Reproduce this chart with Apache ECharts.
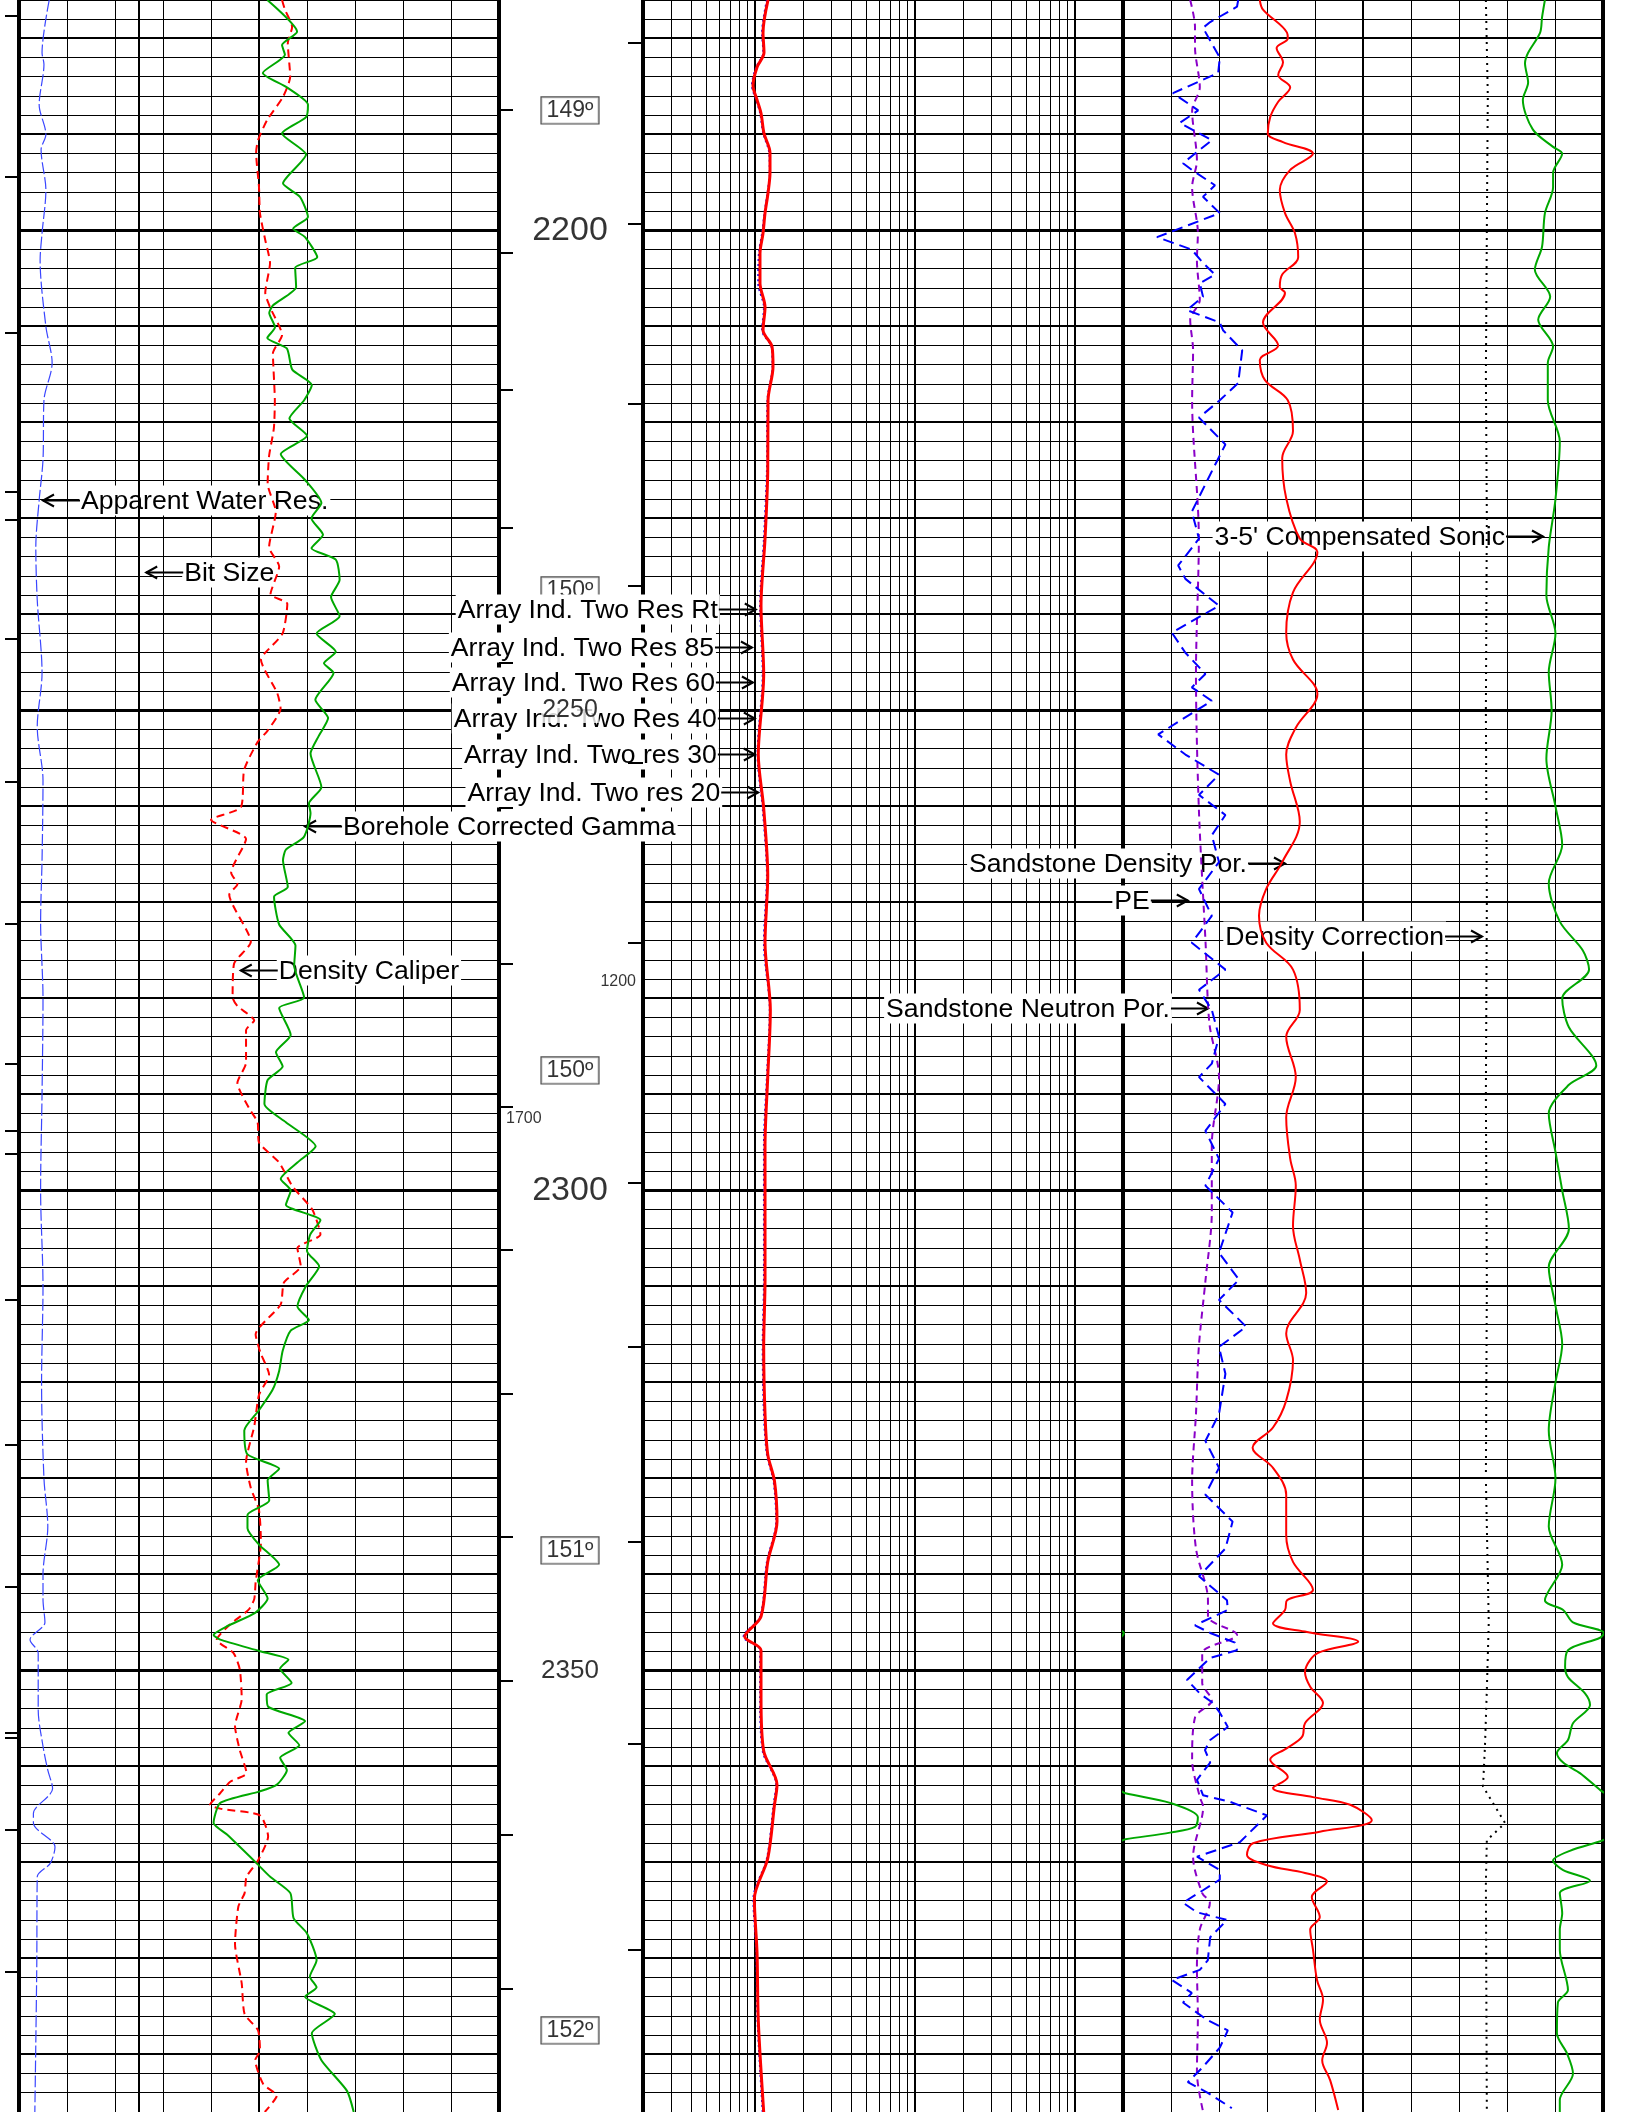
<!DOCTYPE html>
<html>
<head>
<meta charset="utf-8">
<script src="https://cdn.jsdelivr.net/npm/echarts/dist/echarts.min.js"></script>
<style>
  html, body { margin: 0; padding: 0; background: #fff; }
  #log { width: 1627px; height: 2112px; }
</style>
</head>
<body>
<div id="log"></div>
<script>
// ---- depth window (ft) ----
const DEPTH_TOP = 2176;
const DEPTH_BASE = 2396;

// ---- Track 1 curves, [depth, value] ----
// Borehole corrected gamma, API (0 - 150)
const gammaRay = [[2176,77.6],[2179.3,86.9],[2180.7,82.2],[2181.7,83.1],[2183.6,76.2],[2185.1,83.7],[2186.9,90.3],[2188.2,89.7],[2189.9,82.2],[2192.1,89.7],[2195.1,82.5],[2196.5,87.8],[2198.6,90.3],[2199.8,85.7],[2200.7,89.4],[2202.8,93.2],[2203.9,86.3],[2205.9,86.6],[2207.8,79.4],[2208.6,78.2],[2210.1,80],[2211.2,77.6],[2212.3,83.7],[2214.5,85.4],[2216.1,91.5],[2217.7,89.1],[2219.6,84.5],[2221.4,90],[2223.3,81.8],[2226,89.4],[2228.4,94.5],[2230,91.4],[2231.7,95],[2233.1,91.4],[2234.3,99],[2236.4,100.2],[2238.2,97.5],[2240.2,100.2],[2242,93],[2243.9,99],[2245.1,95.3],[2246.1,98.3],[2248.9,92.6],[2250.8,96.6],[2252.7,93.6],[2254.5,91.1],[2258,94.5],[2259.7,90.6],[2260.7,91.1],[2263.2,89],[2264.5,83.4],[2265.6,82.5],[2268.4,84],[2269.4,79.7],[2272.3,81.3],[2274.5,86.4],[2276.6,86],[2279.9,89.1],[2281,81.3],[2283.8,84.9],[2285.6,80.3],[2287.1,82.4],[2288.5,77.7],[2291,76.7],[2292.9,83.4],[2295.4,92.7],[2297.1,87],[2298.8,81.8],[2300,84.9],[2301.5,83.4],[2303.1,94.2],[2304.6,91],[2306.3,90],[2307.9,93.8],[2310,89.6],[2312.1,87],[2313.5,90.6],[2314.6,84.9],[2316.7,82.4],[2318.8,81.3],[2320.8,79.2],[2322.9,75],[2325,70.4],[2327.5,71.4],[2329,81.3],[2330.2,77.7],[2332.3,78.2],[2333.8,71.4],[2335.2,71.4],[2336.9,75],[2339,81.3],[2340.6,74.6],[2342.5,77.7],[2344,73.8],[2345.4,65],[2346.3,60.8],[2346.8,62.9],[2348,75.3],[2348.9,84.2],[2349.8,81.6],[2351.3,85.2],[2352.5,77.4],[2353.8,77.9],[2355.3,89.4],[2356.5,84.2],[2357.8,87.6],[2359.1,81.6],[2360.4,83.7],[2361.9,80.6],[2362.6,75.3],[2363.8,62.9],[2365.9,60.8],[2367.1,65],[2370.1,74.3],[2371.5,78.5],[2373.2,84.8],[2375.8,85.8],[2377.4,90],[2380.2,93],[2381.9,90.9],[2383,93],[2384,89.4],[2385.8,98.7],[2387.8,91.5],[2390.6,94.5],[2393.8,102.5],[2396,104.6]];

// Density caliper, in (6 - 16)
const densityCaliper = [[2176,11.48],[2177,11.54],[2178.8,11.69],[2180.5,11.6],[2184,11.65],[2186.1,11.5],[2188.5,11.17],[2190.6,10.98],[2191.9,10.94],[2195.5,11],[2198.2,11.02],[2201,11.13],[2203.4,11.23],[2206.5,11.13],[2208,11.23],[2210.9,11.48],[2212.8,11.29],[2217.7,11.33],[2220.6,11.31],[2223.5,11.21],[2226.4,11.18],[2229.3,11.35],[2233,11.21],[2235,11.42],[2237.9,11.24],[2238.9,11.59],[2242,11.49],[2244.1,11.11],[2244.7,11.04],[2248.2,11.38],[2249.8,11.45],[2252.1,11.18],[2253.3,10.97],[2256.2,10.69],[2260.1,10.62],[2261.4,10.0],[2263.4,10.73],[2266.9,10.42],[2268.1,10.55],[2269.2,10.38],[2274.1,10.83],[2276.4,10.48],[2279.9,10.45],[2280.8,10.55],[2282.3,10.9],[2283.3,10.73],[2286.7,10.73],[2288.8,10.55],[2291.5,10.8],[2292.9,10.97],[2295,11],[2297.1,11.42],[2299.6,11.7],[2302,12.11],[2304.6,12.28],[2306,11.8],[2307.9,11.87],[2309.6,11.52],[2311.9,11.45],[2315,10.93],[2316.9,11.03],[2319.2,11.21],[2321.3,11],[2324.6,10.9],[2328.3,10.73],[2331,10.83],[2333.3,11],[2336.7,11.04],[2340.8,10.93],[2342.6,10.9],[2343.7,10.78],[2345.2,10.4],[2346.8,10.12],[2348.2,10.47],[2349.9,10.6],[2353,10.64],[2355.8,10.5],[2358.3,10.6],[2360.7,10.74],[2361.6,10.4],[2362.8,10.19],[2364,9.98],[2364.4,10.19],[2365.1,11.02],[2367.3,11.19],[2369.8,10.98],[2371.5,10.74],[2373.2,10.7],[2374.6,10.57],[2378.5,10.5],[2382.6,10.64],[2385.8,10.7],[2387.5,10.98],[2389.6,11.02],[2390.6,10.92],[2393.1,11.09],[2394.3,11.37],[2396,11.12]];

// Bit size, in (same scale as caliper)
const bitSize = [[2176,8.5],[2396,8.5]];

// Apparent water resistivity, ohm-m (0 - 10)
const apparentRw = [[2176,0.63],[2181.5,0.48],[2182.7,0.52],[2186.9,0.42],[2190,0.56],[2191.6,0.46],[2195.8,0.56],[2200.3,0.48],[2203.1,0.44],[2210,0.56],[2213.8,0.69],[2217.7,0.52],[2223.9,0.5],[2228.1,0.42],[2233,0.35],[2238.5,0.38],[2246.1,0.48],[2251.7,0.38],[2257.3,0.5],[2265.6,0.48],[2272,0.45],[2280,0.5],[2290,0.48],[2300,0.45],[2310,0.5],[2320,0.47],[2330,0.52],[2335,0.6],[2340,0.5],[2342.6,0.5],[2345,0.54],[2346.8,0.23],[2348.2,0.4],[2354.1,0.4],[2357.9,0.5],[2360.4,0.6],[2362.3,0.7],[2364.9,0.3],[2365.9,0.3],[2368.4,0.75],[2370.1,0.65],[2371.5,0.38],[2380.9,0.37],[2396,0.33]];

// ---- Track 2: array induction resistivities, ohm-m (log 2 - 2000) ----
const resDepth = [2176,2179.4,2181.5,2183,2184.9,2186.4,2187.8,2189.9,2191.9,2194,2196.1,2198.2,2200.3,2202.4,2205.5,2208,2210.4,2212.1,2214.2,2217.7,2225.1,2232.1,2239.1,2246.2,2254.6,2260.2,2267.2,2274.2,2281.2,2288.2,2295.3,2302.3,2309.3,2316.3,2323.3,2327.5,2330.3,2334.5,2338.7,2344.4,2346.5,2347.9,2352.8,2358.4,2361.9,2364,2369.6,2373.8,2379.4,2386.5,2396];
const resRt = [12.09,11.25,11.41,10.32,9.74,10.32,10.93,11.41,12.44,12.44,12.09,11.58,11.25,10.77,10.77,11.58,11.25,12.8,12.99,12.09,12.04,11.58,10.93,11.36,10.51,11.36,12.04,11.58,12.5,12.04,11.58,11.58,11.58,11.36,11.58,12.04,13.27,13.76,12.04,10.93,8.65,10.93,10.93,11.36,13.76,13.27,12.04,9.93,10.32,10.51,11.36];
const res85 = [11.9,11.1,11.3,10.2,9.6,10.2,10.8,11.3,12.3,12.4,12.0,11.5,11.1,10.6,10.5,11.4,11.1,12.7,12.9,12.0,11.9,11.4,10.8,11.2,10.4,11.2,11.9,11.4,12.4,11.9,11.4,11.4,11.4,11.2,11.4,11.9,13.1,13.6,11.9,10.8,8.5,10.8,10.8,11.2,13.6,13.1,11.9,9.8,10.2,10.4,11.2];
const res60 = [12.0,11.2,11.35,10.3,9.7,10.3,10.9,11.35,12.4,12.4,12.05,11.55,11.2,10.7,10.7,11.5,11.2,12.75,12.95,12.05,12.0,11.5,10.9,11.3,10.5,11.3,12.0,11.5,12.45,12.0,11.5,11.5,11.5,11.3,11.5,12.0,13.2,13.7,12.0,10.9,8.6,10.9,10.9,11.3,13.7,13.2,12.0,9.9,10.3,10.5,11.3];
const res40 = res60.slice();
const res30 = res60.slice();
const res20 = [12.1,11.3,11.45,10.35,9.8,10.35,10.95,11.45,12.45,12.45,12.1,11.6,11.3,10.8,10.8,11.6,11.3,12.8,13.0,12.1,12.05,11.6,10.95,11.4,10.55,11.4,12.05,11.6,12.5,12.05,11.6,11.6,11.6,11.4,11.6,12.05,13.3,13.8,12.05,10.95,8.7,10.95,10.95,11.4,13.8,13.3,12.05,9.95,10.35,10.55,11.4];

// ---- Track 3 curves, [depth, value] ----
// Compensated sonic, us/ft (140 - 40, wraps past 40)
const sonic = [[2176,52.1],[2177.8,52.7],[2179.4,53.1],[2181.5,55.6],[2182.6,56.25],[2184.6,55.6],[2186.4,56.7],[2189.5,54.6],[2191.3,50.4],[2192,48.5],[2194,50.4],[2195.5,50.4],[2198.2,52.1],[2201.7,52.7],[2204.1,54.2],[2206.9,51],[2209.3,53.5],[2212.1,50.4],[2213.8,51.5],[2217.7,51.5],[2222,49],[2228,49.9],[2233,51.3],[2238,51.8],[2242,49.9],[2246,51.3],[2250,50.7],[2255,51.8],[2260,49.9],[2264,48.5],[2268,51.3],[2272,49],[2275,44.2],[2277,42.9],[2280,48.5],[2283,47.1],[2287,41.4],[2289,47.1],[2292,51.3],[2296,49.9],[2300,48.5],[2304,47.1],[2308,51.3],[2312,49.9],[2316,48.5],[2320,49.9],[2325,51.3],[2330,49.9],[2335,51.3],[2339,48.5],[2342.7,52.1],[2343.7,48.3],[2345,46.25],[2346.1,39.8],[2346.6,40.6],[2347.9,47.3],[2349.6,47.9],[2350.7,47.3],[2352.4,43.75],[2353.6,42.7],[2355.5,46.25],[2357.25,47.3],[2358.6,49.6],[2359.6,48.3],[2360.7,44.8],[2362.5,40.5],[2362.8,39.5],[2363.8,30.2],[2365.3,24.4],[2366.3,25],[2366.9,30.2],[2367.6,39.5],[2367.8,40.5],[2368.8,46.9],[2369.8,50.4],[2370.8,48.3],[2371.9,42.7],[2373.2,49],[2375.3,48.5],[2377,49],[2379.1,49],[2383.3,47.3],[2384.6,49.4],[2387.8,49.6],[2389.9,47.5],[2392,46.25],[2394.75,49],[2396,49]];

// Sandstone density porosity, v/v (0.45 - -0.15)
const densityPor = [[2176,0.279],[2177,0.275],[2179.4,0.245],[2180,0.244],[2181,0.258],[2182.5,0.25],[2183.8,0.256],[2185.1,0.241],[2186.6,0.256],[2188.2,0.266],[2189.9,0.269],[2190.8,0.25],[2192,0.2125],[2193.7,0.241],[2195.8,0.254],[2198.2,0.2475],[2200.3,0.235],[2202.8,0.231],[2204.6,0.251],[2205.9,0.254],[2206.5,0.2475],[2209.6,0.275],[2212,0.256],[2213.5,0.279],[2215.6,0.2725],[2217.7,0.244],[2220.9,0.2375],[2223.7,0.251],[2227.9,0.246],[2232.1,0.229],[2233.5,0.207],[2237.7,0.2375],[2241.9,0.246],[2244.7,0.2375],[2248.3,0.207],[2251.8,0.234],[2254.6,0.246],[2257.4,0.241],[2261.6,0.229],[2265.8,0.251],[2268.6,0.271],[2271.4,0.28],[2274.2,0.271],[2277,0.2375],[2281.2,0.229],[2284,0.246],[2288.2,0.234],[2292.4,0.246],[2296.7,0.241],[2299.5,0.234],[2303.7,0.2375],[2307.2,0.229],[2310.7,0.221],[2314.9,0.246],[2317.7,0.2375],[2321.9,0.246],[2324.7,0.2625],[2326.8,0.288],[2328.9,0.2625],[2331.7,0.246],[2335.9,0.246],[2338.7,0.2375],[2341.6,0.2125],[2342.7,0.245],[2343.7,0.2475],[2345.1,0.2625],[2346,0.22],[2347,0.156],[2348.1,0.204],[2348.9,0.216],[2350.2,0.2225],[2351.7,0.216],[2353.4,0.2],[2355.5,0.2225],[2356.9,0.226],[2358.1,0.245],[2359.3,0.266],[2361.1,0.244],[2362.25,0.2625],[2363.2,0.2125],[2364,0.166],[2365.6,0.139],[2366.8,0.204],[2368,0.2875],[2369.2,0.295],[2370.3,0.27],[2371.1,0.2225],[2372,0.195],[2373.6,0.214],[2375.7,0.204],[2377,0.216],[2379.1,0.2125],[2382.25,0.2075],[2384.3,0.2],[2386.4,0.204],[2388.8,0.195],[2390.6,0.201],[2392.7,0.191],[2395.8,0.181]];

// Sandstone neutron porosity, v/v (0.45 - -0.15)
const neutronPor = [[2176,0.306],[2176.7,0.3075],[2178.3,0.341],[2178.9,0.35],[2182,0.329],[2183.6,0.331],[2185.7,0.3875],[2187.5,0.356],[2188.8,0.379],[2190.6,0.339],[2193,0.375],[2193.7,0.364],[2195.3,0.335],[2196.5,0.35],[2198.2,0.329],[2200.7,0.4075],[2202,0.364],[2203.3,0.351],[2204.6,0.335],[2205.5,0.354],[2206.9,0.35],[2208.3,0.37],[2209.6,0.329],[2210.4,0.325],[2212.5,0.301],[2215.9,0.306],[2217.7,0.329],[2219.5,0.355],[2222.3,0.322],[2225.1,0.339],[2229.3,0.364],[2232.1,0.355],[2234.9,0.381],[2236.3,0.372],[2239.1,0.33],[2241.9,0.389],[2244,0.372],[2246.2,0.347],[2247.6,0.364],[2249,0.339],[2252.5,0.406],[2254.6,0.372],[2256.7,0.33],[2258.8,0.355],[2260.9,0.322],[2263,0.339],[2265.8,0.33],[2268.6,0.355],[2271.4,0.339],[2274.2,0.364],[2277,0.322],[2279.1,0.355],[2281.2,0.339],[2284,0.33],[2286.8,0.339],[2288.2,0.355],[2291,0.322],[2293.8,0.347],[2296.7,0.33],[2299.5,0.347],[2302.3,0.313],[2306.5,0.33],[2309.3,0.305],[2311.4,0.33],[2314.2,0.296],[2316.3,0.33],[2319.1,0.322],[2323.3,0.33],[2326.1,0.347],[2328.9,0.33],[2331.7,0.347],[2334.5,0.313],[2337.3,0.322],[2340.2,0.355],[2342.7,0.32],[2343.7,0.319],[2345.3,0.36],[2346.1,0.341],[2347.1,0.31],[2347.9,0.3075],[2348.7,0.341],[2351,0.37],[2352.4,0.354],[2353.4,0.3375],[2354.4,0.329],[2355.9,0.319],[2357.25,0.341],[2358.3,0.3475],[2359.6,0.341],[2361.4,0.3575],[2363,0.35],[2363.7,0.316],[2365.1,0.27],[2367.9,0.304],[2369.4,0.3575],[2370.8,0.329],[2371.8,0.329],[2372.9,0.35],[2374.2,0.375],[2375.2,0.3575],[2376,0.32],[2377.8,0.341],[2380.2,0.344],[2381.2,0.354],[2382.25,0.389],[2383.6,0.364],[2384.6,0.375],[2386.4,0.345],[2387.5,0.319],[2389.3,0.329],[2391.3,0.35],[2392.9,0.369],[2394,0.344],[2395.6,0.314]];

// Photoelectric factor, b/e (0 - 10)
const photoElectric = [[2176,1.4],[2178.8,1.5],[2180.9,1.5],[2185.1,1.6],[2187.5,1.44],[2192.7,1.54],[2195.5,1.44],[2200.3,1.56],[2203.1,1.54],[2207.25,1.6],[2209.3,1.4],[2212.5,1.46],[2217.7,1.44],[2232.1,1.58],[2246.2,1.52],[2260.2,1.58],[2274.2,1.72],[2282.6,1.8],[2288.2,2.0],[2295.3,1.85],[2302.3,1.85],[2309.3,1.72],[2316.3,1.58],[2323.3,1.52],[2330.3,1.44],[2337.3,1.52],[2342.7,1.77],[2344.4,1.77],[2346.3,2.375],[2348.2,1.65],[2351.3,1.65],[2353.1,1.85],[2354.9,1.5],[2359.3,1.44],[2363.2,1.6],[2364.2,1.67],[2369.4,1.46],[2373.2,1.65],[2374.2,1.81],[2377,1.6],[2380.9,1.54],[2386.1,1.56],[2391.9,1.54],[2396,1.67]];

// Density correction, g/cc (-0.75 - 0.25)
const densityCorr = [[2176,0.006],[2186,0.01],[2200,0.008],[2215,0.006],[2230,0.008],[2250,0.006],[2270,0.008],[2290,0.006],[2310,0.008],[2330,0.006],[2345,0.012],[2352,0.008],[2358,0.004],[2362.1,0.0],[2365.9,0.046],[2367.7,0.008],[2372,0.006],[2396,0.008]];

// ---- depth track text ----
const depthNumbers = [2200, 2250, 2300, 2350];
const depthNumberSizes = [34, 25, 34, 26];
const tempDepths = [2187.5, 2237.5, 2287.5, 2337.5, 2387.5];
const tempLabels = ['149º', '150º', '150º', '151º', '152º'];
const countLabels = [{ text: '1200', depth: 2278.2, side: 'right' }, { text: '1700', depth: 2292.5, side: 'left' }];

// small event ticks along the track edges (depths)
const ticksTrack1Edge = [2187.5, 2202.4, 2216.6, 2231, 2245.1, 2260.2, 2276.4, 2291.3, 2306.2, 2321.2, 2336.1, 2351.1, 2367.1, 2383.2];
const ticksTrack2Edge = [2180.5, 2199.3, 2218.1, 2237, 2255.5, 2274.2, 2299.2, 2316.3, 2336.6, 2357.7, 2379.1];
const ticksOuterEdge = [2177.7, 2194.4, 2210.7, 2227.25, 2230.2, 2242.6, 2257.5, 2272.2, 2286.8, 2293.8, 2296.2, 2311.4, 2326.5, 2341.3, 2356.5, 2357, 2366.6, 2381.4];

// grid positions
const divisions = [0, 1, 2, 3, 4, 5, 6, 7, 8, 9, 10];
const logGrid = [2,3,4,5,6,7,8,9,10,20,30,40,50,60,70,80,90,100,200,300,400,500,600,700,800,900,1000,2000];

// curve annotations: track, tip position (division 0-10), depth, arrow side
const annotations = [
  { text: 'Apparent Water Res.', track: 0, div: 0.5, depth: 2228.1, dir: 'left' },
  { text: 'Bit Size', track: 0, div: 2.65, depth: 2235.6, dir: 'left' },
  { text: 'Array Ind. Two Res Rt', track: 2, div: 2.35, depth: 2239.5, dir: 'right' },
  { text: 'Array Ind. Two Res 85', track: 2, div: 2.27, depth: 2243.4, dir: 'right' },
  { text: 'Array Ind. Two Res 60', track: 2, div: 2.29, depth: 2247.1, dir: 'right' },
  { text: 'Array Ind. Two Res 40', track: 2, div: 2.33, depth: 2250.8, dir: 'right' },
  { text: 'Array Ind. Two res 30', track: 2, div: 2.33, depth: 2254.6, dir: 'right' },
  { text: 'Array Ind. Two res 20', track: 2, div: 2.4, depth: 2258.5, dir: 'right' },
  { text: 'Borehole Corrected Gamma', track: 0, div: 5.96, depth: 2262.1, dir: 'left' },
  { text: 'Density Caliper', track: 0, div: 4.62, depth: 2277.1, dir: 'left' },
  { text: "3-5' Compensated Sonic", track: 3, div: 8.75, depth: 2231.9, dir: 'right' },
  { text: 'Sandstone Density Por.', track: 3, div: 3.375, depth: 2265.9, dir: 'right' },
  { text: 'PE', track: 3, div: 1.35, depth: 2269.75, dir: 'right' },
  { text: 'Density Correction', track: 3, div: 7.48, depth: 2273.5, dir: 'right' },
  { text: 'Sandstone Neutron Por.', track: 3, div: 1.77, depth: 2281.1, dir: 'right' }
];

const FONT = '"Liberation Sans", Arial, sans-serif';
const LABEL_FONT = '26.6px ' + FONT;

// ---------------------------------------------------------------
const chart = echarts.init(document.getElementById('log'), null, { renderer: 'canvas' });

const grids = [
  { left: 19, top: 0, width: 480, height: 2112 },    // 0: track 1
  { left: 499, top: 0, width: 144, height: 2112 },   // 1: depth track
  { left: 643, top: 0, width: 480, height: 2112 },   // 2: resistivity track
  { left: 1123, top: 0, width: 480, height: 2112 },  // 3: porosity track
  { left: 0, top: 0, width: 19, height: 2112 }       // 4: outer margin
];

function vAxis(grid, opts) {
  return Object.assign({
    type: 'value', gridIndex: grid, show: false,
    splitLine: { show: false }, axisLine: { show: false }, axisTick: { show: false }, axisLabel: { show: false }
  }, opts);
}
const xAxes = [
  vAxis(0, { min: 0, max: 10 }),                     // 0 track1 divisions
  vAxis(0, { min: 0, max: 150 }),                    // 1 gamma
  vAxis(0, { min: 6, max: 16 }),                     // 2 caliper / bit
  vAxis(1, { min: 0, max: 144 }),                    // 3 depth track px
  vAxis(2, { min: 0, max: 10 }),                     // 4 track2 divisions
  vAxis(2, { type: 'log', logBase: 10, min: 2, max: 2000 }), // 5 resistivity
  vAxis(3, { min: 0, max: 10 }),                     // 6 track3 divisions
  vAxis(3, { min: -0.15, max: 0.45, inverse: true }),// 7 porosity
  vAxis(3, { min: 0, max: 10 }),                     // 8 PE
  vAxis(3, { min: -0.75, max: 0.25 }),               // 9 density correction
  vAxis(3, { min: 40, max: 140, inverse: true }),    // 10 sonic
  vAxis(4, { min: 0, max: 19 })                      // 11 margin px
];
const yAxes = [0, 1, 2, 3, 4].map(g => vAxis(g, { min: DEPTH_TOP, max: DEPTH_BASE, inverse: true }));

// ---- grid lines, drawn as segments [x1, y1, x2, y2, width] ----
function depthSegments(x0, x1) {
  const out = [];
  for (let d = DEPTH_TOP; d <= DEPTH_BASE; d += 2) {
    out.push([x0, d, x1, d, d % 50 === 0 ? 3 : (d % 10 === 0 ? 2 : 1)]);
  }
  return out;
}
const divWidth = i => (i === 0 || i === 10) ? 4 : (i === 5 ? 2 : 1);
const logWidth = v => (v === 2 || v === 2000) ? 4 : ([10, 100, 1000].indexOf(v) >= 0 ? 2 : 1);
const verticalSegments = (values, widthOf) => values.map(v => [v, DEPTH_TOP, v, DEPTH_BASE, widthOf(v)]);

function snap(v, w) { return (Math.round(w) % 2 === 1) ? Math.floor(v) + 0.5 : Math.round(v); }

function segSeries(xi, yi, segs, z) {
  return {
    type: 'custom', xAxisIndex: xi, yAxisIndex: yi, z: z, silent: true, animation: false, clip: false,
    data: segs,
    encode: { x: [0, 2], y: [1, 3] },
    renderItem: function (params, api) {
      const w = api.value(4);
      const a = api.coord([api.value(0), api.value(1)]);
      const b = api.coord([api.value(2), api.value(3)]);
      let x1 = a[0], y1 = a[1], x2 = b[0], y2 = b[1];
      if (Math.abs(y1 - y2) < 0.01) { y1 = y2 = snap(y1, w); }
      if (Math.abs(x1 - x2) < 0.01) { x1 = x2 = snap(x1, w); }
      return { type: 'line', shape: { x1: x1, y1: y1, x2: x2, y2: y2 }, style: { stroke: '#000', lineWidth: w } };
    }
  };
}
const tickSegments = (depths, x1, x2) => depths.map(d => [x1, d, x2, d, 2]);

// ---- annotation labels with arrows ----
const measureCtx = document.createElement('canvas').getContext('2d');
measureCtx.font = LABEL_FONT;
const ARROW = 37;
function annotationSeries(track, xi, yi) {
  const list = annotations.filter(a => a.track === track);
  return {
    type: 'custom', xAxisIndex: xi, yAxisIndex: yi, z: 3, silent: true, animation: false, clip: false,
    data: list.map((a, i) => [a.div, a.depth, i]),
    encode: { x: 0, y: 1 },
    renderItem: function (params, api) {
      const a = list[api.value(2)];
      const p = api.coord([api.value(0), api.value(1)]);
      const tx = p[0], ty = Math.floor(p[1]) + 0.5;
      const tw = measureCtx.measureText(a.text).width;
      let x0, x1, head, left;
      if (a.dir === 'left') {
        x0 = tx; x1 = tx + ARROW; head = [[tx + 11, ty - 6], [tx, ty], [tx + 11, ty + 6]];
        left = x1 + 1;
      } else {
        x0 = tx - ARROW; x1 = tx; head = [[tx - 11, ty - 6], [tx, ty], [tx - 11, ty + 6]];
        left = x0 - 1 - tw;
      }
      return {
        type: 'group',
        children: [
          { type: 'rect', z2: 0, shape: { x: left - 2, y: ty - 15, width: tw + 4, height: 30 }, style: { fill: '#fff' } },
          { type: 'text', z2: 1, style: { text: a.text, x: left, y: ty + 1, align: 'left', verticalAlign: 'middle', font: LABEL_FONT, fill: '#000' } },
          { type: 'line', z2: 1, shape: { x1: x0, y1: ty, x2: x1, y2: ty }, style: { stroke: '#000', lineWidth: 2 } },
          { type: 'polyline', z2: 1, shape: { points: head }, style: { stroke: '#000', lineWidth: 2, fill: null } }
        ]
      };
    }
  };
}

function curve(name, xi, yi, data, style, extra) {
  return Object.assign({
    name: name, type: 'line', xAxisIndex: xi, yAxisIndex: yi, data: data,
    showSymbol: false, symbol: 'none', z: 5, silent: true, clip: true, animation: false,
    lineStyle: style
  }, extra || {});
}
const pairs = (vals) => vals.map((v, i) => [v, resDepth[i]]);
const swap = (arr) => arr.map(p => [p[1], p[0]]);

const series = [
  // chart grid
  segSeries(0, 0, depthSegments(0, 10).concat(verticalSegments(divisions, divWidth)), 1),
  segSeries(4, 2, depthSegments(0, 10), 1),
  segSeries(5, 2, verticalSegments(logGrid, logWidth), 1),
  segSeries(6, 3, depthSegments(0, 10).concat(verticalSegments(divisions, divWidth)), 1),

  // track 1
  curve('Apparent Water Res.', 0, 0, swap(apparentRw), { color: '#3a46ff', width: 1.2, type: [12, 3] }, { smooth: 0.3 }),
  curve('Bit Size', 2, 0, swap(bitSize), { color: '#000', width: 2 }),
  curve('Density Caliper', 2, 0, swap(densityCaliper), { color: '#ff0000', width: 2, type: [8, 5] }, { smooth: 0.2 }),
  curve('Borehole Corrected Gamma', 1, 0, swap(gammaRay), { color: '#00a800', width: 2 }, { smooth: 0.2 }),

  // track 2
  curve('Array Ind. Two res 20', 5, 2, pairs(res20), { color: '#00c8c8', width: 1 }, { smooth: 0.3 }),
  curve('Array Ind. Two res 30', 5, 2, pairs(res30), { color: '#00c8c8', width: 1 }, { smooth: 0.3 }),
  curve('Array Ind. Two Res 40', 5, 2, pairs(res40), { color: '#00c8c8', width: 1 }, { smooth: 0.3 }),
  curve('Array Ind. Two Res 60', 5, 2, pairs(res60), { color: '#00c8c8', width: 1 }, { smooth: 0.3 }),
  curve('Array Ind. Two Res 85', 5, 2, pairs(res85), { color: '#0000ff', width: 2, type: [2, 3] }, { smooth: 0.3 }),
  curve('Array Ind. Two Res Rt', 5, 2, pairs(resRt), { color: '#ff0000', width: 3 }, { smooth: 0.3 }),

  // track 3
  curve('Density Correction', 9, 3, swap(densityCorr), { color: '#000', width: 2, type: [2, 5] }),
  curve('PE', 8, 3, swap(photoElectric), { color: '#8a00c8', width: 2, type: [7, 5] }, { smooth: 0.3 }),
  curve('Sandstone Neutron Por.', 7, 3, swap(neutronPor), { color: '#0000ff', width: 2, type: [11, 6] }),
  curve('Sandstone Density Por.', 7, 3, swap(densityPor), { color: '#ff0000', width: 2 }, { smooth: 0.35 }),
  curve("3-5' Compensated Sonic", 10, 3, swap(sonic), { color: '#00a800', width: 2 }, { smooth: 0.3 }),
  // backup (wrapped) trace of the sonic, shifted one full scale
  curve("3-5' Compensated Sonic backup", 10, 3, sonic.map(p => [p[1] + 100, p[0]]), { color: '#00a800', width: 2 }, { smooth: 0.3 }),

  // curve annotations
  annotationSeries(0, 0, 0),
  annotationSeries(2, 4, 2),
  annotationSeries(3, 6, 3),

  // edge ticks
  segSeries(3, 1, tickSegments(ticksTrack1Edge, 0, 14), 6),
  segSeries(3, 1, tickSegments(ticksTrack2Edge, 129, 144), 6),
  segSeries(11, 4, tickSegments(ticksOuterEdge, 5, 19), 6),

  // temperature boxes
  {
    type: 'scatter', xAxisIndex: 3, yAxisIndex: 1, symbolSize: 0, z: 2, silent: true, animation: false,
    data: tempDepths.map((d, i) => ({ name: tempLabels[i], value: [71, d] })),
    label: { show: true, position: 'inside', formatter: p => p.name, color: '#000', fontFamily: FONT, fontSize: 23,
      backgroundColor: '#fff', borderColor: '#222', borderWidth: 1.2, padding: [2, 5, 1, 5] }
  },
  // depth numbers
  {
    type: 'scatter', xAxisIndex: 3, yAxisIndex: 1, symbolSize: 0, z: 4, silent: true, animation: false,
    data: depthNumbers.map((d, i) => ({ name: String(d), value: [71, d], label: { fontSize: depthNumberSizes[i] } })),
    label: { show: true, position: 'inside', formatter: p => p.name, color: '#000', fontFamily: FONT,
      backgroundColor: '#fff', padding: [0, 1] }
  },
  // counter values
  {
    type: 'scatter', xAxisIndex: 3, yAxisIndex: 1, symbolSize: 0, z: 4, silent: true, animation: false,
    data: countLabels.map(c => ({ name: c.text, value: [c.side === 'right' ? 137 : 7, c.depth],
      label: { position: c.side === 'right' ? 'left' : 'right' } })),
    label: { show: true, distance: 0, formatter: p => p.name, color: '#000', fontFamily: FONT, fontSize: 16 }
  }
];

chart.setOption({
  animation: false,
  backgroundColor: '#fff',
  grid: grids,
  xAxis: xAxes,
  yAxis: yAxes,
  series: series
});
</script>
</body>
</html>
